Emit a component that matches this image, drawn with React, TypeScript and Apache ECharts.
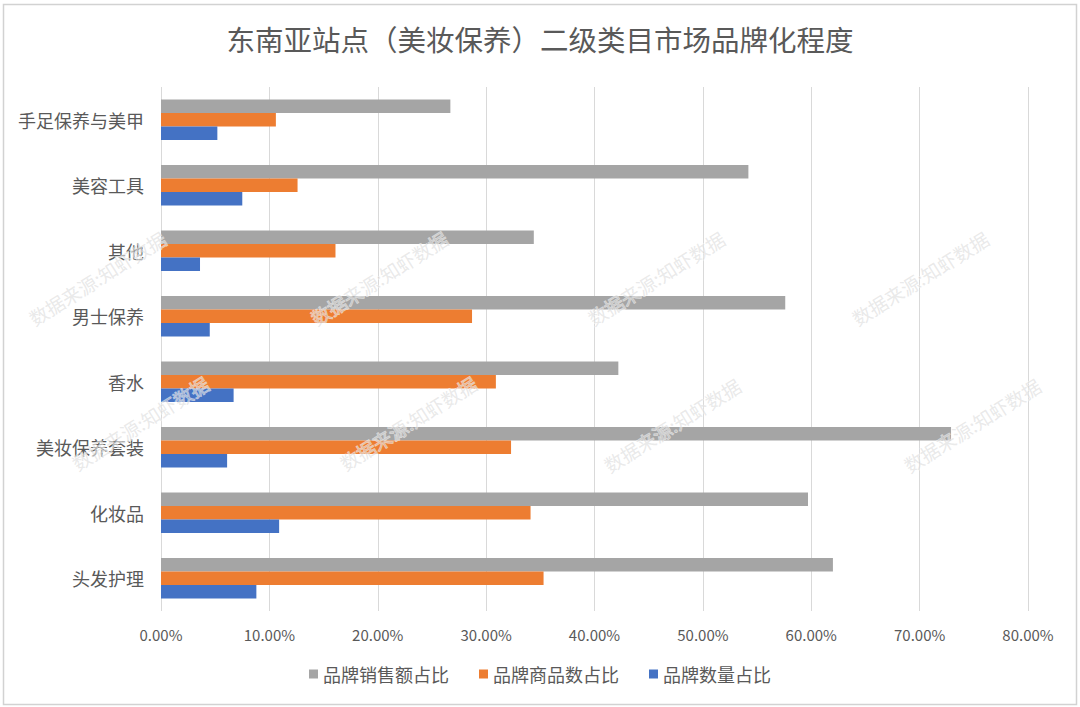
import React, { useEffect, useRef } from "react";
import * as echarts from "echarts";

const title = "东南亚站点（美妆保养）二级类目市场品牌化程度";
const categories = ["头发护理", "化妆品", "美妆保养套装", "香水", "男士保养", "其他", "美容工具", "手足保养与美甲"];
const seriesNames = ["品牌销售额占比", "品牌商品数占比", "品牌数量占比"];
const salesShare = [62.0, 59.7, 72.9, 42.2, 57.6, 34.4, 54.2, 26.7];
const goodsShare = [35.3, 34.1, 32.3, 30.9, 28.7, 16.1, 12.6, 10.6];
const brandShare = [8.8, 10.9, 6.1, 6.7, 4.5, 3.6, 7.5, 5.2];
const colors = ["#A5A5A5", "#ED7D31", "#4472C4"];
const watermark = "数据来源:知虾数据";
const watermarkSpots = [
  [97, 278], [379, 278], [656, 278], [920, 278],
  [140, 423], [408, 423], [672, 425], [972, 425],
];

const FONT = "'Noto Sans CJK SC', 'Noto Sans', sans-serif";

export default function App() {
  const ref = useRef<HTMLDivElement>(null);
  useEffect(() => {
    if (!ref.current) return;
    const chart = echarts.init(ref.current, null, { renderer: "svg" });
    const values = [salesShare, goodsShare, brandShare];
    chart.setOption({
      animation: false,
      backgroundColor: "#ffffff",
      title: {
        text: title,
        left: "center",
        top: 19,
        textStyle: { fontFamily: FONT, fontSize: 28.5, fontWeight: "normal", color: "#595959" },
      },
      legend: {
        data: seriesNames,
        bottom: 19,
        left: "center",
        icon: "rect",
        itemWidth: 9,
        itemHeight: 9,
        itemGap: 30,
        textStyle: { fontFamily: FONT, fontSize: 18, color: "#595959" },
      },
      grid: { left: 161, right: 52, top: 87, bottom: 96, containLabel: false },
      xAxis: {
        type: "value",
        min: 0,
        max: 80,
        interval: 10,
        axisLine: { show: false },
        axisTick: { show: false },
        splitLine: { lineStyle: { color: "#d9d9d9", width: 1 } },
        axisLabel: {
          formatter: (v: number) => v.toFixed(2) + "%",
          fontFamily: FONT,
          fontSize: 15,
          color: "#595959",
          margin: 16,
        },
      },
      yAxis: {
        type: "category",
        data: categories,
        axisLine: { show: false },
        axisTick: { show: false },
        axisLabel: { fontFamily: FONT, fontSize: 18, color: "#595959", margin: 17 },
      },
      series: [0, 1, 2].map((i) => ({
        name: seriesNames[i],
        type: "bar",
        data: values[i],
        barGap: "0%",
        barCategoryGap: "38%",
        itemStyle: { color: colors[i] },
      })),
      graphic: [
        {
          type: "rect",
          shape: { x: 3.5, y: 4.5, width: 1073, height: 700 },
          style: { fill: "none", stroke: "#d2d2d2", lineWidth: 1.5 },
          silent: true,
        },
        ...watermarkSpots.map(([x, y]) => ({
          type: "text",
          x,
          y,
          rotation: 0.56,
          z: 100,
          silent: true,
          style: {
            text: watermark,
            fontFamily: FONT,
            fontSize: 19,
            fill: "rgba(200,200,200,0.4)",
            stroke: "rgba(255,255,255,0.6)",
            lineWidth: 1,
            align: "center",
            verticalAlign: "middle",
          },
        })),
      ],
    });
    return () => chart.dispose();
  }, []);
  return (
    <div
      ref={ref}
      style={{ position: "fixed", left: 0, top: 0, width: 1080, height: 707 }}
    />
  );
}
